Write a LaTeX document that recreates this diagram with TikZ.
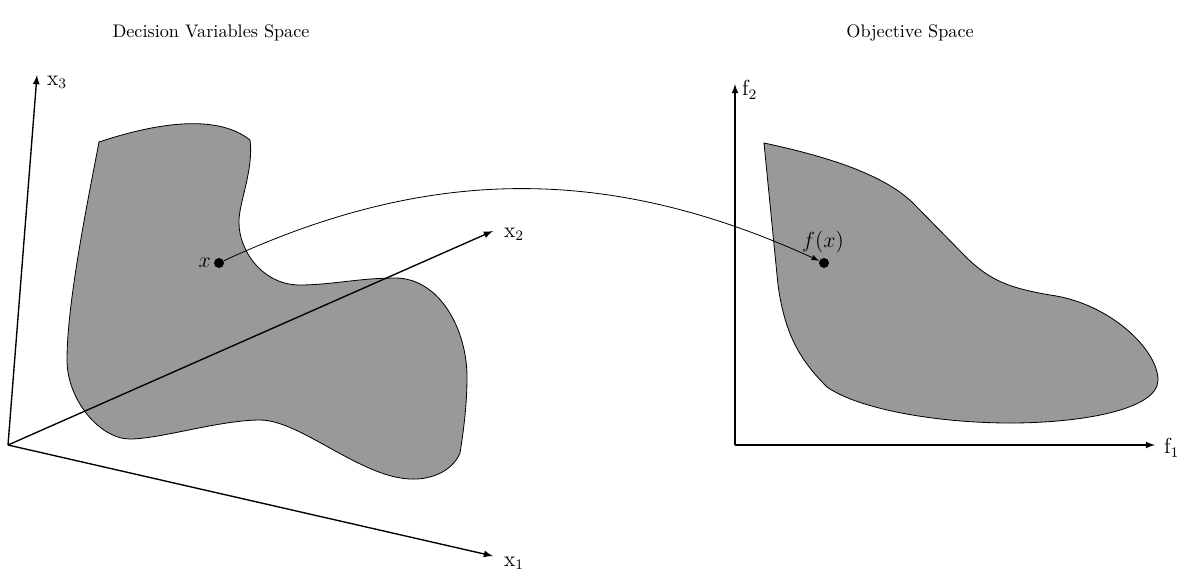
\documentclass[tikz,border=0pt]{standalone}
\usetikzlibrary{arrows}
\begin{document}
\begin{tikzpicture}[x=0.55pt,y=-0.55pt,
  axis/.style={line width=0.75pt,-latex},
  blob/.style={draw=black,line width=0.45pt,fill=black!40},
  dot/.style={circle,fill=black,inner sep=0pt,minimum size=5.5pt},
  lbl/.style={inner sep=1pt,font=\large}]
\useasboundingbox (0,0) rectangle (1184,576);
% titles
\node[inner sep=1pt] (t1) at (211,33) {Decision Variables Space};
\node[inner sep=1pt] (t2) at (910,33) {Objective Space};
% left blob
\path[blob] (99,142)
  .. controls (150,125) and (215,112) .. (250,140)
  .. controls (254,170) and (238,205) .. (239,223)
  .. controls (239,250) and (262,285) .. (300,285)
  .. controls (330,285) and (360,278) .. (395,278)
  .. controls (440,278) and (467,330) .. (467,377)
  .. controls (467,410) and (462,440) .. (460,453)
  .. controls (452,472) and (430,480) .. (410,479)
  .. controls (360,477) and (300,420) .. (260,420)
  .. controls (220,420) and (160,439) .. (130,439)
  .. controls (100,439) and (67,400) .. (67,360)
  .. controls (67,300) and (90,190) .. cycle;
% right blob
\path[blob] (764,143)
  .. controls (820,155) and (880,172) .. (912,202)
  -- (965,256)
  .. controls (990,281) and (1010,288) .. (1050,295)
  .. controls (1110,303) and (1158,350) .. (1158,380)
  .. controls (1158,410) and (1080,423) .. (1010,423)
  .. controls (940,423) and (860,410) .. (827,387)
  .. controls (800,360) and (785,335) .. (778,285)
  -- cycle;
% 3D axes
\coordinate (O) at (8,445);
\coordinate (X1) at (493,556);
\coordinate (X2) at (493,231);
\coordinate (X3) at (37,75);
\draw[axis] (O) -- (X1);
\draw[axis] (O) -- (X2);
\draw[axis] (O) -- (X3);
\node[lbl,anchor=west] (lx1) at (502,563) {$\mathrm{x}_1$};
\node[lbl,anchor=west] (lx2) at (502,234) {$\mathrm{x}_2$};
\node[lbl,anchor=west] (lx3) at (45,82) {$\mathrm{x}_3$};
% 2D axes
\coordinate (P) at (735,445);
\coordinate (F1) at (1155,445);
\coordinate (F2) at (735,84);
\draw[axis] (P) -- (F1);
\draw[axis] (P) -- (F2);
\node[lbl,anchor=west] (lf1) at (1162,448) {$\mathrm{f}_1$};
\node[lbl,anchor=west] (lf2) at (740,90) {$\mathrm{f}_2$};
% points
\node[dot] (x) at (219,263) {};
\node[lbl,anchor=east] (lx) at (213,263) {$x$};
\node[dot] (fx) at (824,263) {};
\node[lbl] (lfx) at (823,242) {$f(x)$};
\draw[line width=0.45pt,-latex] (x) .. controls (430,165) and (610,165) .. (fx);
\end{tikzpicture}
\end{document}
